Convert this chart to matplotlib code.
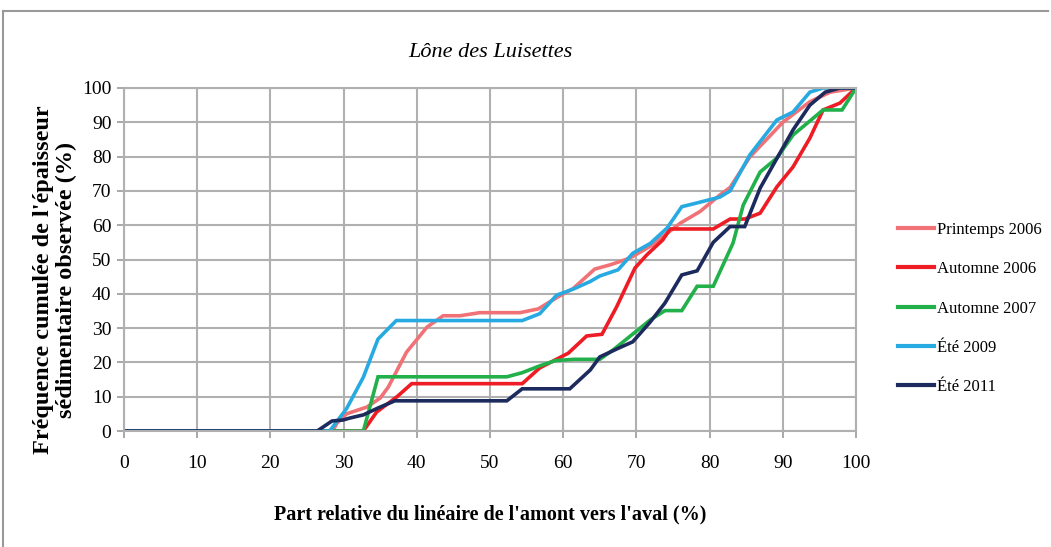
import matplotlib.pyplot as plt
from matplotlib.lines import Line2D

plt.rcParams['font.family'] = ['Liberation Serif', 'DejaVu Serif']

# cumulative curves, x = share of the reach (upstream -> downstream, %)
x_print06 = [0, 28.5, 29.1, 30.4, 33.2, 35.0, 36.1, 38.6, 41.4, 43.6, 45.9, 48.6, 54.1, 56.6, 59.2, 61.4,
             64.3, 66.5, 69.1, 72.0, 76.0, 78.7, 81.4, 82.8, 85.5, 88.0, 90.0, 93.7, 96.5, 100]
y_print06 = [0, 0, 2.3, 5.0, 7.0, 9.6, 12.8, 23.0, 30.3, 33.6, 33.6, 34.5, 34.5, 35.6, 39.0, 41.6,
             47.2, 48.5, 50.4, 54.0, 60.6, 64.0, 68.8, 71.0, 79.9, 85.5, 90.0, 96.0, 98.8, 100]

x_aut06 = [0, 32.7, 34.5, 37.3, 39.3, 54.4, 56.8, 60.7, 63.2, 65.3, 67.3, 69.8, 71.4, 73.6, 74.6,
           80.5, 82.8, 84.8, 86.9, 89.2, 91.4, 93.7, 95.5, 97.8, 100]
y_aut06 = [0, 0, 5.5, 10.0, 13.8, 13.8, 18.4, 22.7, 27.7, 28.2, 36.2, 47.5, 51.3, 55.7, 58.9,
           58.9, 61.8, 61.8, 63.5, 71.2, 77.0, 85.4, 93.6, 95.6, 100]

x_aut07 = [0, 32.7, 34.7, 52.3, 54.4, 56.8, 58.9, 61.4, 65.0, 66.8, 71.9, 73.9, 76.2, 78.3, 80.5,
           83.2, 84.6, 86.9, 89.2, 91.4, 95.5, 98.1, 100]
y_aut07 = [0, 0, 15.8, 15.8, 17.0, 19.0, 20.5, 20.9, 20.9, 23.6, 32.4, 35.1, 35.1, 42.2, 42.2,
           54.8, 65.9, 75.5, 79.6, 86.3, 93.6, 93.6, 100]

x_ete09 = [0, 28.1, 30.4, 32.7, 34.7, 37.2, 54.4, 56.8, 59.1, 61.4, 63.7, 65.0, 67.5, 69.5, 71.9,
           74.2, 76.2, 78.3, 81.4, 82.8, 85.5, 89.2, 91.4, 93.7, 95.5, 100]
y_ete09 = [0, 0, 6.5, 15.7, 26.8, 32.2, 32.2, 34.2, 39.6, 41.4, 43.6, 45.2, 47.0, 51.8, 54.7,
           59.2, 65.4, 66.5, 68.2, 70.0, 80.5, 90.7, 93.0, 98.8, 100, 100]

x_ete11 = [0, 26.4, 28.4, 29.9, 30.9, 32.7, 34.7, 37.0, 52.3, 54.4, 60.9, 63.7, 65.0, 67.5, 69.5,
           71.9, 73.9, 76.2, 78.3, 80.5, 82.8, 84.8, 86.9, 89.2, 91.4, 93.7, 95.8, 97.8, 100]
y_ete11 = [0, 0, 2.9, 3.2, 3.8, 4.7, 6.7, 8.8, 8.8, 12.3, 12.3, 17.8, 21.6, 24.1, 26.0,
           31.8, 37.3, 45.5, 46.7, 55.0, 59.6, 59.6, 70.8, 79.5, 87.8, 95.0, 98.8, 100, 100]

series = [
    ("Printemps 2006", x_print06, y_print06, "#F07276"),
    ("Automne 2006", x_aut06, y_aut06, "#EE1C24"),
    ("Automne 2007", x_aut07, y_aut07, "#22B04B"),
    ("Été 2009", x_ete09, y_ete09, "#27AAE1"),
    ("Été 2011", x_ete11, y_ete11, "#1C2A5E"),
]

fig = plt.figure(figsize=(10.51, 5.47), dpi=100)
ax = fig.add_axes([124 / 1051, 1 - 431 / 547, 732 / 1051, 343 / 547])

for name, xs, ys, col in series:
    ax.plot(xs, ys, color=col, lw=2.6, label=name, solid_joinstyle='miter')

ax.set_xlim(0, 100)
ax.set_ylim(0, 100)
ax.set_xticks(range(0, 101, 10))
ax.set_yticks(range(0, 101, 10))
ax.grid(True, color="#B0B0B0", lw=1.5)
ax.set_axisbelow(True)
for s in ax.spines.values():
    s.set_color("#B0B0B0")
    s.set_linewidth(1.5)
ax.tick_params(axis='both', direction='out', length=5, width=1.2, color="#999999",
               labelsize=14)
ax.tick_params(axis='x', pad=12)
ax.tick_params(axis='y', pad=4)

ax.set_xlabel("Part relative du linéaire de l'amont vers l'aval (%)", fontsize=14.5,
              fontweight='bold', labelpad=24)
fig.text(55 / 1051, 1 - 280 / 547, "Fréquence cumulée de l'épaisseur\nsédimentaire observée (%)",
         rotation=90, ha='center', va='center', fontsize=17.5, fontweight='bold',
         linespacing=1.12, multialignment='center')
ax.set_title("Lône des Luisettes", fontsize=16, style='italic', pad=22)

handles = [Line2D([], [], color=c, lw=3) for _, _, _, c in series]
fig.legend(handles, [n for n, _, _, _ in series], loc='upper left',
           bbox_to_anchor=(883 / 1051, 1 - 207 / 547), frameon=False, fontsize=12,
           handlelength=2.15, handletextpad=0.2, labelspacing=1.4)

# outer frame (top and left edges)
fig.add_artist(Line2D([3 / 1051, 1048 / 1051], [1 - 11 / 547, 1 - 11 / 547],
                      color="#999999", lw=1.5))
fig.add_artist(Line2D([3 / 1051, 3 / 1051], [0, 1 - 11 / 547], color="#999999", lw=1.5))

fig.savefig("out.png", dpi=100)
